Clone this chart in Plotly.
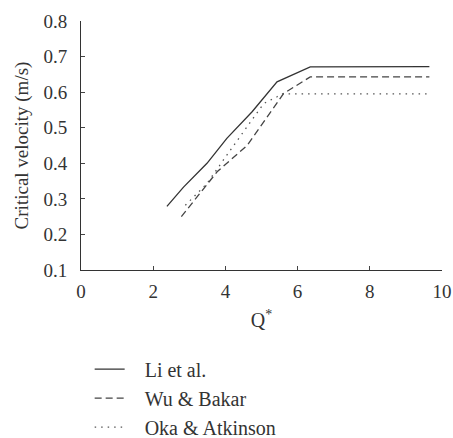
import plotly.graph_objects as go

li_x = [2.38, 2.84, 3.49, 4.04, 4.74, 5.43, 6.35, 9.65]
li_y = [0.279, 0.333, 0.400, 0.470, 0.545, 0.629, 0.671, 0.672]

wu_x = [2.78, 3.77, 4.60, 5.43, 5.61, 6.35, 9.65]
wu_y = [0.250, 0.376, 0.450, 0.573, 0.596, 0.643, 0.643]

oka_x = [2.89, 3.49, 4.04, 5.06, 5.43, 5.57, 9.60]
oka_y = [0.282, 0.343, 0.423, 0.568, 0.587, 0.595, 0.595]

x_ticks = [0, 2, 4, 6, 8, 10]
y_ticks = [0.1, 0.2, 0.3, 0.4, 0.5, 0.6, 0.7, 0.8]

font = "Liberation Serif"
pad = "\u00a0\u00a0\u00a0"

fig = go.Figure()
fig.add_trace(go.Scatter(x=li_x, y=li_y, mode="lines", name=pad + "Li et al.",
                         line=dict(color="#333333", width=1.3, dash="solid")))
fig.add_trace(go.Scatter(x=wu_x, y=wu_y, mode="lines", name=pad + "Wu & Bakar",
                         line=dict(color="#444444", width=1.3, dash="7px,4px")))
fig.add_trace(go.Scatter(x=oka_x, y=oka_y, mode="lines", name=pad + "Oka & Atkinson",
                         line=dict(color="#555555", width=1.3, dash="1.5px,5px")))

fig.update_layout(
    width=453, height=438,
    margin=dict(l=81, r=11, t=21, b=168, autoexpand=False),
    paper_bgcolor="white", plot_bgcolor="white",
    font=dict(family=font, size=19, color="#333333"),
    showlegend=True,
    legend=dict(x=0.024, y=-0.32, xanchor="left", yanchor="top",
                font=dict(family=font, size=20, color="#333333"),
                bgcolor="rgba(0,0,0,0)", tracegroupgap=0),
    xaxis=dict(range=[0, 10], tickvals=x_ticks, ticks="inside", ticklen=4,
               showline=True, linecolor="#333333", linewidth=1, showgrid=False,
               zeroline=False, mirror=False, ticklabelstandoff=4,
               title=dict(text="Q<sup>*</sup>", font=dict(size=20), standoff=12),
               tickfont=dict(size=19)),
    yaxis=dict(range=[0.1, 0.8], tickvals=y_ticks, tickformat=".1f",
               ticks="inside", ticklen=4, ticklabelstandoff=9,
               showline=True, linecolor="#333333", linewidth=1, showgrid=False,
               zeroline=False,
               title=dict(text="Critical velocity (m/s)", font=dict(size=19), standoff=9),
               tickfont=dict(size=19)),
)

fig.write_html("out.html")
